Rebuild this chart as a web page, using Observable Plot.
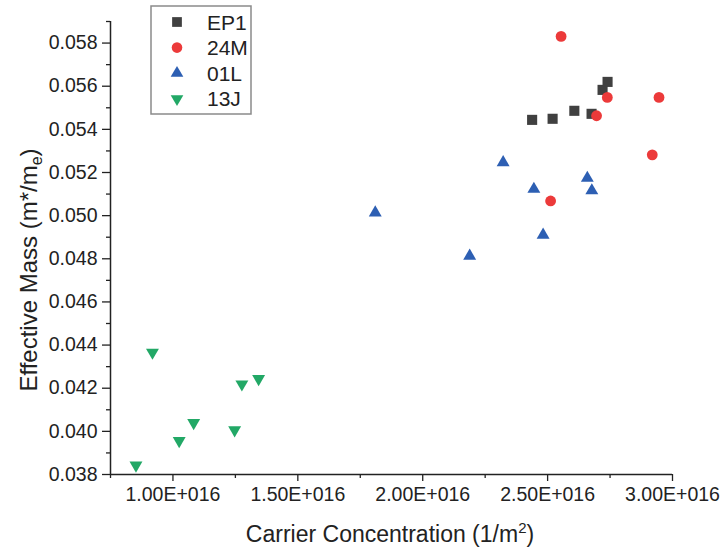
<!DOCTYPE html>
<html>
<head>
<meta charset="utf-8">
<script src="https://cdn.jsdelivr.net/npm/d3@7"></script>
<script src="https://cdn.jsdelivr.net/npm/@observablehq/plot@0.6"></script>
<style>
  html, body { margin: 0; padding: 0; background: #fff; }
  #chart { position: relative; width: 723px; height: 554px; }
  svg { overflow: visible; }
</style>
</head>
<body>
<div id="chart"></div>
<script>
// ---- data ----
const seriesNames = ["EP1", "24M", "01L", "13J"];
const seriesColors = ["#404040", "#ec3a3a", "#2d5fb3", "#22a866"];

const ep1X = [2.438e16, 2.520e16, 2.607e16, 2.676e16, 2.720e16, 2.740e16];
const ep1Y = [0.05444, 0.05449, 0.05486, 0.05472, 0.05583, 0.05620];

const m24X = [2.554e16, 2.739e16, 2.946e16, 2.696e16, 2.919e16, 2.512e16];
const m24Y = [0.05831, 0.05548, 0.05548, 0.05463, 0.05282, 0.05068];

const l01X = [1.810e16, 2.188e16, 2.322e16, 2.445e16, 2.482e16, 2.659e16, 2.677e16];
const l01Y = [0.05013, 0.04813, 0.05246, 0.05123, 0.04910, 0.05174, 0.05116];

const j13X = [0.852e16, 0.918e16, 1.025e16, 1.083e16, 1.247e16, 1.276e16, 1.343e16];
const j13Y = [0.03843, 0.04366, 0.03956, 0.04040, 0.04006, 0.04219, 0.04244];

const xTicks = [1.0e16, 1.5e16, 2.0e16, 2.5e16, 3.0e16];
const xTickLabels = ["1.00E+016", "1.50E+016", "2.00E+016", "2.50E+016", "3.00E+016"];
const xMinorTicks = [0.75e16, 1.25e16, 1.75e16, 2.25e16, 2.75e16];
const yTicks = [0.038, 0.040, 0.042, 0.044, 0.046, 0.048, 0.050, 0.052, 0.054, 0.056, 0.058];
const yTickLabels = ["0.038", "0.040", "0.042", "0.044", "0.046", "0.048", "0.050", "0.052", "0.054", "0.056", "0.058"];
const yMinorTicks = [0.039, 0.041, 0.043, 0.045, 0.047, 0.049, 0.051, 0.053, 0.055, 0.057, 0.059];
const xDomain = [0.75e16, 3.0e16];
const yDomain = [0.038, 0.059];

const xTitle = "Carrier Concentration (1/m";
const yTitle = "Effective Mass (m*/m";

// ---- build tables ----
const toRows = (xs, ys, s) => xs.map((x, i) => ({x, y: ys[i], s}));
const ep1 = toRows(ep1X, ep1Y, "EP1");
const m24 = toRows(m24X, m24Y, "24M");
const l01 = toRows(l01X, l01Y, "01L");
const j13 = toRows(j13X, j13Y, "13J");

const FONT = "'Liberation Sans', Arial, sans-serif";
const xLab = new Map(xTicks.map((t, i) => [t, xTickLabels[i]]));
const yLab = new Map(yTicks.map((t, i) => [t, yTickLabels[i]]));

const chart = Plot.plot({
  width: 723,
  height: 554,
  marginLeft: 110,
  marginRight: 51,
  marginTop: 21,
  marginBottom: 80,
  style: {fontFamily: FONT, background: "#fff", color: "#222"},
  x: {domain: xDomain, type: "linear"},
  y: {domain: yDomain, type: "linear"},
  marks: [
    Plot.axisX(xTicks, {tickSize: 7, tickPadding: 6, fontSize: 19.5, tickFormat: d => xLab.get(d), label: null, strokeWidth: 1.3}),
    Plot.axisX(xMinorTicks, {tickSize: 4, tickFormat: () => "", label: null, strokeWidth: 1.3}),
    Plot.axisY(yTicks, {tickSize: 8, tickPadding: 5, fontSize: 19.5, tickFormat: d => yLab.get(d), label: null, strokeWidth: 1.3}),
    Plot.axisY(yMinorTicks, {tickSize: 4, tickFormat: () => "", label: null, strokeWidth: 1.3}),
    Plot.ruleY([yDomain[0]], {stroke: "#222", strokeWidth: 1.5}),
    Plot.ruleX([xDomain[0]], {stroke: "#222", strokeWidth: 1.5}),
    Plot.dot(ep1, {x: "x", y: "y", symbol: "square", r: 5.7, fill: seriesColors[0], stroke: "none"}),
    Plot.dot(m24, {x: "x", y: "y", symbol: "circle", r: 5.4, fill: seriesColors[1], stroke: "none"}),
    Plot.dot(l01, {x: "x", y: "y", symbol: "triangle", r: 4.8, fill: seriesColors[2], stroke: "none"}),
    Plot.dot(j13, {x: "x", y: "y", symbol: "triangle", r: 4.8, rotate: 180, fill: seriesColors[3], stroke: "none"})
  ]
});

document.getElementById("chart").appendChild(chart);

// ---- axis titles with sub/superscripts ----
const svg = d3.select(chart);
const xt = svg.append("text")
  .attr("x", 390).attr("y", 542)
  .attr("text-anchor", "middle")
  .style("font-family", FONT).style("font-size", "23px").attr("fill", "#222");
xt.append("tspan").text(xTitle);
xt.append("tspan").attr("dy", -9).style("font-size", "15px").text("2");
xt.append("tspan").attr("dy", 9).text(")");

const yt = svg.append("text")
  .attr("transform", "translate(37,270) rotate(-90)")
  .attr("text-anchor", "middle")
  .style("font-family", FONT).style("font-size", "24px").attr("fill", "#222");
yt.append("tspan").text(yTitle);
yt.append("tspan").attr("dy", 5).style("font-size", "16px").text("e");
yt.append("tspan").attr("dy", -5).text(")");

// ---- legend ----
const lg = svg.append("g").attr("transform", "translate(151,6)");
lg.append("rect").attr("width", 100).attr("height", 108)
  .attr("fill", "#fff").attr("stroke", "#8a8a8a").attr("stroke-width", 1.5);
const symTypes = [d3.symbolSquare, d3.symbolCircle, d3.symbolTriangle, d3.symbolTriangle];
const symR = [5.5, 5.3, 4.7, 4.7];
seriesNames.forEach((name, i) => {
  const cy = 16 + i * 25.6;
  lg.append("path")
    .attr("d", d3.symbol(symTypes[i], Math.PI * symR[i] * symR[i])())
    .attr("transform", `translate(26,${cy})` + (i === 3 ? " rotate(180)" : ""))
    .attr("fill", seriesColors[i]);
  lg.append("text").attr("x", 56).attr("y", cy).attr("dy", "0.36em")
    .attr("text-anchor", "start")
    .style("font-family", FONT).style("font-size", "21px").attr("fill", "#222")
    .text(name);
});
</script>
</body>
</html>
